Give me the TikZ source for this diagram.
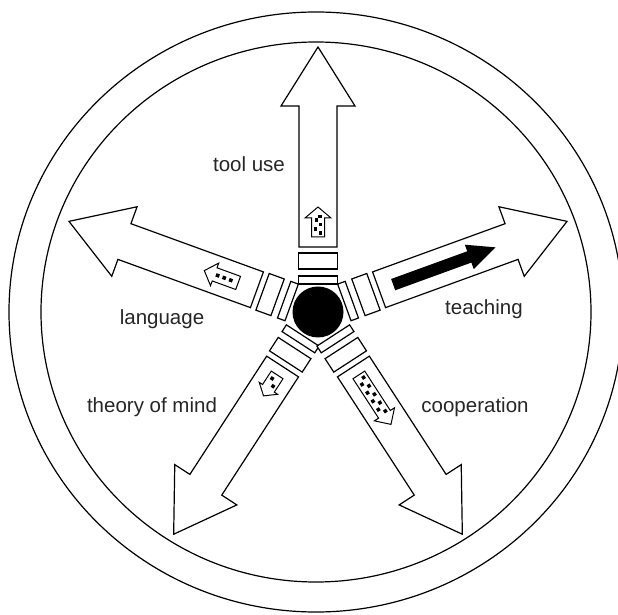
\documentclass[tikz,border=0pt]{standalone}
\usepackage{fontspec}
\setmainfont{Liberation Sans}
\tikzset{
  ring/.style={draw=black, line width=1.2pt},
  outline/.style={draw=black, line width=1.2pt, fill=white, line join=miter},
  icon/.style={draw=black, line width=1pt, fill=white, line join=miter},
  speck/.style={fill=black},
  lbl/.style={font=\fontsize{20.5}{24}\selectfont, text=black!85, inner sep=0pt, anchor=base}
}
\begin{document}
\begin{tikzpicture}[x=1pt, y=1pt]
				\useasboundingbox (-318,-303) rectangle (300,312);
				%Cercles
				\draw[ring] (-2,0) ellipse [x radius=307, y radius=300];
				\draw[ring] (-2,0) ellipse [x radius=275, y radius=270];
				\node[circle, fill=black, inner sep=0pt, minimum size=51pt] (hub) at (0,0) {};
				%Flèches
				\foreach \ang in {90,20,160,237,303}{
					\begin{scope}[rotate=\ang]
						\draw[outline] (28,-19.5) rectangle (36,19.5);
						\draw[outline] (43,-19.5) rectangle (59,19.5);
						\draw[outline] (65,-19) -- (206,-19) -- (206,-37) -- (265,0) -- (206,37) -- (206,19) -- (65,19) -- cycle;
					\end{scope}
				}
				%Petites flèches
				\begin{scope}[rotate=90]
					\draw[icon] (75,-6.5) -- (94,-6.5) -- (94,-13) -- (105,0) -- (94,13) -- (94,6.5) -- (75,6.5) -- cycle;
					\fill[speck] (77,-4) rectangle (80.5,-0.5);
					\fill[speck] (81,1) rectangle (84.5,4.5);
					\fill[speck] (85.5,-4) rectangle (89,-0.5);
					\fill[speck] (90,0) rectangle (93.5,3.5);
					\fill[speck] (93.5,-3.5) rectangle (97,0);
				\end{scope}
				\begin{scope}[rotate=20]
					\fill[black] (80,-6) -- (161,-6) -- (161,-13) -- (189,0) -- (161,13) -- (161,6) -- (80,6) -- cycle;
				\end{scope}
				\begin{scope}[rotate=160]
					\draw[icon] (85,-7) -- (110,-7) -- (110,-12) -- (121,0) -- (110,12) -- (110,7) -- (85,7) -- cycle;
					\foreach \r in {91,98,105}
						\fill[speck] (\r,-1.8) rectangle ++(3.6,3.6);
				\end{scope}
				\begin{scope}[rotate=237]
					\draw[icon] (75,-7) -- (91,-7) -- (91,-11) -- (100,0) -- (91,11) -- (91,7) -- (75,7) -- cycle;
					\fill[speck] (79,-4) rectangle ++(3.5,3.5);
					\fill[speck] (85,1) rectangle ++(3.5,3.5);
				\end{scope}
				\begin{scope}[rotate=303]
					\draw[icon] (75,-7) -- (122,-7) -- (122,-12) -- (134,0) -- (122,12) -- (122,7) -- (75,7) -- cycle;
					\foreach \r in {78,88,...,118}
						\fill[speck] (\r,0.8) rectangle ++(3.5,3.5);
					\foreach \r in {83,93,...,113}
						\fill[speck] (\r,-4.3) rectangle ++(3.5,3.5);
				\end{scope}
				%Etiquettes
				\node[lbl] (tooluse) at (-69,140) {tool use};
				\node[lbl] (language) at (-156,-13) {language};
				\node[lbl] (teaching) at (166,-2.5) {teaching};
				\node[lbl] (mind) at (-166,-101) {theory of mind};
				\node[lbl] (cooperation) at (157,-101) {cooperation};
\end{tikzpicture}
\end{document}
